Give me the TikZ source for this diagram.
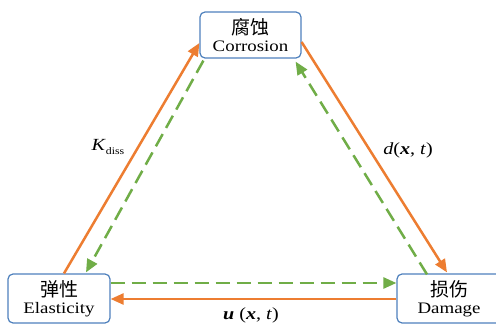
\documentclass[tikz,border=0pt]{standalone}
\usepackage{fontspec}
\setmainfont[FakeStretch=1.18]{Liberation Serif}
\newfontfamily\cjk{Noto Sans CJK SC}
\usetikzlibrary{arrows.meta,calc}
\definecolor{boxblue}{RGB}{79,129,189}
\definecolor{arrorange}{RGB}{237,125,49}
\definecolor{arrgreen}{RGB}{112,173,71}
\tikzset{
  statebox/.style={draw=boxblue, line width=1.2pt, rounded corners=5pt, fill=white,
    align=center, inner sep=0pt, font=\fontsize{16}{17}\selectfont},
  solidarrow/.style={draw=arrorange, line width=2.5pt, -{Triangle[length=13pt,width=11pt]}},
  dasharrow/.style={draw=arrgreen, line width=2.5pt, dash pattern=on 14pt off 7pt,
    -{Triangle[length=13pt,width=11pt]}},
  lbl/.style={font=\fontsize{17}{17}\selectfont, inner sep=0pt}
}
\begin{document}
\begin{tikzpicture}[x=1pt,y=-1pt]
\useasboundingbox (0,0) rectangle (496,324);
\fill[white] (0,0) rectangle (496,324);
\node[statebox, minimum width=101pt, minimum height=46pt] (cor) at (250.5,35)
  {{\cjk\fontsize{19}{19}\selectfont 腐蚀}\\Corrosion};
\node[statebox, minimum width=102pt, minimum height=49pt] (ela) at (59,298.5)
  {{\cjk\fontsize{19}{19}\selectfont 弹性}\\Elasticity};
\node[statebox, minimum width=104pt, minimum height=49pt] (dam) at (449,298.5)
  {{\cjk\fontsize{19}{19}\selectfont 损伤}\\Damage};
% left side
\draw[solidarrow] ([xshift=5pt]ela.north) -- ([yshift=-8pt]cor.west);
\draw[dasharrow] ([xshift=4pt,yshift=-2pt]cor.south west) -- ([xshift=27pt,yshift=1pt]ela.north);
% right side
\draw[solidarrow] ([yshift=-7pt]cor.east) -- ([xshift=-2pt,yshift=1pt]dam.north);
\draw[dasharrow] ([xshift=-22pt,yshift=-1pt]dam.north) -- ([xshift=-6pt,yshift=-3pt]cor.south east);
% bottom
\draw[dasharrow] ([yshift=15.5pt]ela.east) -- ([yshift=15.5pt]dam.west);
\draw[solidarrow] ([yshift=-0.5pt]dam.west) -- ([yshift=-0.5pt]ela.east);
% labels
\node[lbl] (kd) at (108,147) {\textit{K}\raisebox{-0.4ex}{\fontsize{10}{10}\selectfont diss}};
\node[lbl] (dl) at (408,150) {\textit{d}(\textbf{\textit{x}}, \textit{t})};
\node[lbl] (ul) at (251,315) {\textbf{\textit{u}} (\textbf{\textit{x}}, \textit{t})};
\end{tikzpicture}
\end{document}
